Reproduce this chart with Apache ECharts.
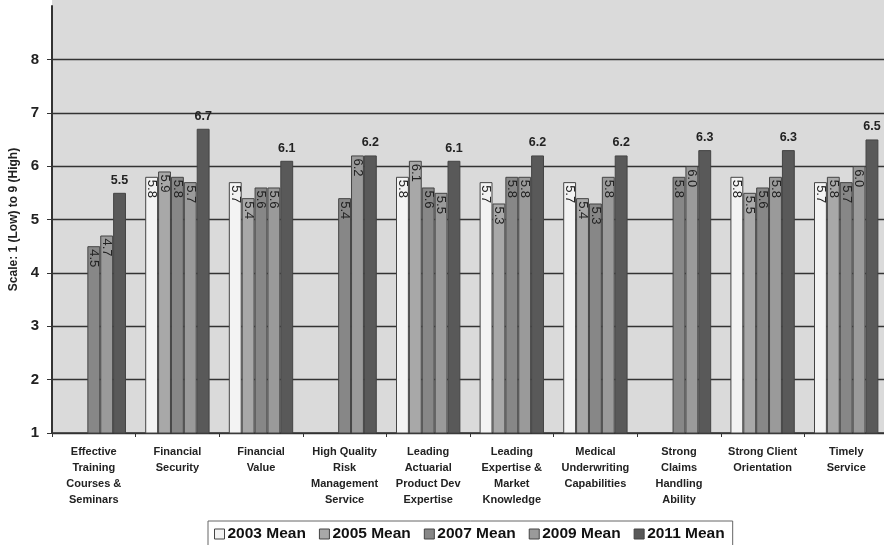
<!DOCTYPE html>
<html>
<head>
<meta charset="utf-8">
<script src="https://cdn.jsdelivr.net/npm/echarts@6/dist/echarts.min.js"></script>
<style>
  html, body { margin: 0; padding: 0; background: #fff; }
  #chart { width: 884px; height: 545px; }
</style>
</head>
<body>
<div id="chart"></div>
<script>
// Service attribute ratings, mean scores by survey year
const categories = [
  'Effective\nTraining\nCourses &\nSeminars',
  'Financial\nSecurity',
  'Financial\nValue',
  'High Quality\nRisk\nManagement\nService',
  'Leading\nActuarial\nProduct Dev\nExpertise',
  'Leading\nExpertise &\nMarket\nKnowledge',
  'Medical\nUnderwriting\nCapabilities',
  'Strong\nClaims\nHandling\nAbility',
  'Strong Client\nOrientation',
  'Timely\nService'
];
const mean2003 = [null, 5.8, 5.7, null, 5.8, 5.7, 5.7, null, 5.8, 5.7];
const mean2005 = [null, 5.9, 5.4, null, 6.1, 5.3, 5.4, null, 5.5, 5.8];
const mean2007 = [4.5, 5.8, 5.6, 5.4, 5.6, 5.8, 5.3, 5.8, 5.6, 5.7];
const mean2009 = [4.7, 5.7, 5.6, 6.2, 5.5, 5.8, 5.8, 6.0, 5.8, 6.0];
const mean2011 = [5.5, 6.7, 6.1, 6.2, 6.1, 6.2, 6.2, 6.3, 6.3, 6.5];
const yTicks = { min: 1, max: 9, step: 1 };

const FONT = "'Liberation Sans', Arial, sans-serif";
const fmt = p => (p.value == null ? '' : Number(p.value).toFixed(1));

const insideLabel = {
  show: true,
  position: 'insideTop',
  rotate: -90,
  align: 'left',
  verticalAlign: 'middle',
  distance: 3,
  fontFamily: FONT,
  fontSize: 13,
  color: '#222',
  formatter: fmt
};
const topLabel = {
  show: true,
  position: 'top',
  distance: 6,
  fontFamily: FONT,
  fontSize: 12.5,
  fontWeight: 'bold',
  color: '#222',
  formatter: fmt
};

function barSeries(name, data, color, label) {
  return {
    name: name,
    type: 'bar',
    data: data,
    barGap: '0%',
    barCategoryGap: '23%',
    itemStyle: { color: color, borderColor: '#444', borderWidth: 1 },
    label: label
  };
}

const chart = echarts.init(document.getElementById('chart'), null, { renderer: 'canvas' });
chart.setOption({
  backgroundColor: '#ffffff',
  animation: false,
  textStyle: { fontFamily: FONT },
  grid: {
    left: 52, right: -4, top: 6, bottom: 112,
    outerBoundsMode: 'none',
    containLabel: false,
    show: true, backgroundColor: '#dadada', borderWidth: 0
  },
  graphic: [{
    type: 'rect', z: -1,
    shape: { x: 52, y: 0, width: 832, height: 7 },
    style: { fill: '#dadada' }
  }],
  legend: {
    left: 208, top: 521,
    padding: [5, 8, 5, 6],
    borderColor: '#666', borderWidth: 1,
    icon: 'rect',
    itemWidth: 10, itemHeight: 10, itemGap: 13,
    itemStyle: { borderColor: '#444', borderWidth: 1 },
    textStyle: { fontFamily: FONT, fontSize: 15.5, fontWeight: 'bold', color: '#111', padding: [0, 0, 0, -2] },
    data: ['2003 Mean', '2005 Mean', '2007 Mean', '2009 Mean', '2011 Mean']
  },
  xAxis: {
    type: 'category',
    data: categories,
    axisLine: { lineStyle: { color: '#333', width: 1.5 } },
    axisTick: { show: true, length: 4, lineStyle: { color: '#333' } },
    axisLabel: {
      interval: 0, margin: 11,
      fontFamily: FONT, fontSize: 11, fontWeight: 'bold', color: '#222',
      lineHeight: 16, align: 'center', verticalAlign: 'top'
    }
  },
  yAxis: {
    type: 'value',
    min: yTicks.min, max: yTicks.max, interval: yTicks.step,
    name: 'Scale: 1 (Low) to 9 (High)',
    nameLocation: 'middle',
    nameGap: 32,
    nameTextStyle: { fontFamily: FONT, fontSize: 12, fontWeight: 'bold', color: '#222' },
    axisLine: { show: true, lineStyle: { color: '#333', width: 2 } },
    axisTick: { show: true, length: 5, lineStyle: { color: '#333' } },
    axisLabel: {
      showMaxLabel: false, margin: 13,
      fontFamily: FONT, fontSize: 15, fontWeight: 'bold', color: '#222'
    },
    splitLine: { show: true, showMaxLine: false, lineStyle: { color: '#333', width: 1.3 } }
  },
  series: [
    barSeries('2003 Mean', mean2003, '#f3f3f3', insideLabel),
    barSeries('2005 Mean', mean2005, '#a8a8a8', insideLabel),
    barSeries('2007 Mean', mean2007, '#878787', insideLabel),
    barSeries('2009 Mean', mean2009, '#9a9a9a', insideLabel),
    barSeries('2011 Mean', mean2011, '#595959', topLabel)
  ]
});
</script>
</body>
</html>
